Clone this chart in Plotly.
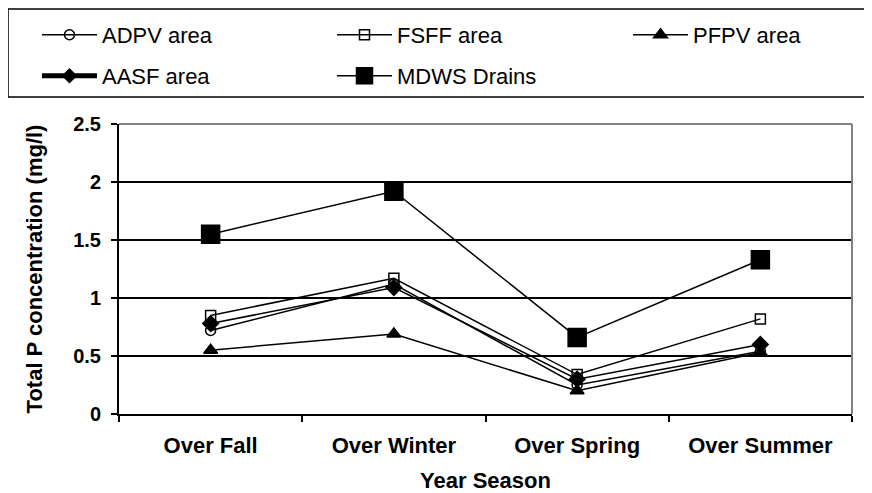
import plotly.graph_objects as go

seasons = ["Over Fall", "Over Winter", "Over Spring", "Over Summer"]
adpv = [0.72, 1.12, 0.25, 0.54]
fsff = [0.85, 1.17, 0.34, 0.82]
pfpv = [0.55, 0.69, 0.20, 0.53]
aasf = [0.78, 1.09, 0.30, 0.60]
mdws = [1.55, 1.92, 0.66, 1.33]

FONT = "Liberation Sans, Arial, sans-serif"
fig = go.Figure()

def add(name, vals, symbol, size, legend, showlegend=True):
    fig.add_trace(go.Scatter(
        x=seasons, y=vals, name=name, mode="lines+markers",
        line=dict(color="black", width=1.5),
        marker=dict(symbol=symbol, size=size, color="black",
                    line=dict(color="black", width=1.5)),
        legend=legend, showlegend=showlegend))

add("ADPV area", adpv, "circle-open", 10, "legend")
add("FSFF area", fsff, "square-open", 10, "legend2")
add("PFPV area", pfpv, "triangle-up", 12, "legend3")
add("AASF area", aasf, "diamond", 12, "legend4", showlegend=False)
# legend entry for AASF with the thick legend line as in the reference
fig.add_trace(go.Scatter(x=[None], y=[None], name="AASF area", mode="lines+markers",
                         line=dict(color="black", width=5),
                         marker=dict(symbol="diamond", size=12, color="black"),
                         legend="legend4", showlegend=True))
add("MDWS Drains", mdws, "square", 18, "legend5")

OFF = 8  # page body margin
W, H = 872 - OFF, 493 - OFF
L, R, T, B = 119 - OFF, 872 - 852, 124 - OFF, 493 - 414
pw, ph = W - L - R, H - T - B

def px(x):  # reference page pixel -> paper
    return (x - OFF - L) / pw

def py(y):
    return (H - B - (y - OFF)) / ph

def leg(xp, yp):
    return dict(orientation="h", xanchor="left", yanchor="middle",
                x=px(xp), y=py(yp),
                font=dict(family=FONT, size=22, color="black"),
                bgcolor="rgba(0,0,0,0)", borderwidth=0, itemwidth=55)

COLS = [37, 332, 628]
ROWS = [35, 76]

fig.update_layout(
    width=W, height=H,
    margin=dict(l=L, r=R, t=T, b=B, autoexpand=False),
    paper_bgcolor="white", plot_bgcolor="white",
    font=dict(family=FONT, color="black"),
    legend=leg(COLS[0], ROWS[0]),
    legend2=leg(COLS[1], ROWS[0]),
    legend3=leg(COLS[2], ROWS[0]),
    legend4=leg(COLS[0], ROWS[1]),
    legend5=leg(COLS[1], ROWS[1]),
    xaxis=dict(
        type="category", range=[-0.5, 3.5], tickson="boundaries",
        ticks="outside", ticklen=6, tickwidth=1.5, tickcolor="black",
        showline=True, linecolor="black", linewidth=2, showgrid=False,
        tickfont=dict(family=FONT, size=22, color="black", weight="bold"),
        ticklabelstandoff=11,
        title=dict(text="<b>Year Season</b>", font=dict(family=FONT, size=22), standoff=37),
    ),
    yaxis=dict(
        range=[0, 2.5], dtick=0.5, tick0=0,
        ticks="outside", ticklen=6, tickwidth=1.5, tickcolor="black",
        showline=True, linecolor="black", linewidth=2,
        showgrid=True, gridcolor="black", gridwidth=2, zeroline=False,
        tickfont=dict(family=FONT, size=20, color="black", weight="bold"),
        ticklabelstandoff=6,
        title=dict(text="<b>Total P concentration (mg/l)</b>", font=dict(family=FONT, size=22), standoff=24),
    ),
    shapes=[
        dict(type="rect", xref="paper", yref="paper", x0=px(8), x1=px(867), y0=py(9), y1=py(97),
             line=dict(color="black", width=1.5), fillcolor="rgba(0,0,0,0)"),
        dict(type="line", xref="paper", yref="paper", x0=0, x1=1, y0=1, y1=1,
             line=dict(color="#808080", width=2), layer="above"),
        dict(type="line", xref="paper", yref="paper", x0=1, x1=1, y0=0, y1=1,
             line=dict(color="#808080", width=2), layer="above"),
    ],
)

fig.write_html("out.html")
